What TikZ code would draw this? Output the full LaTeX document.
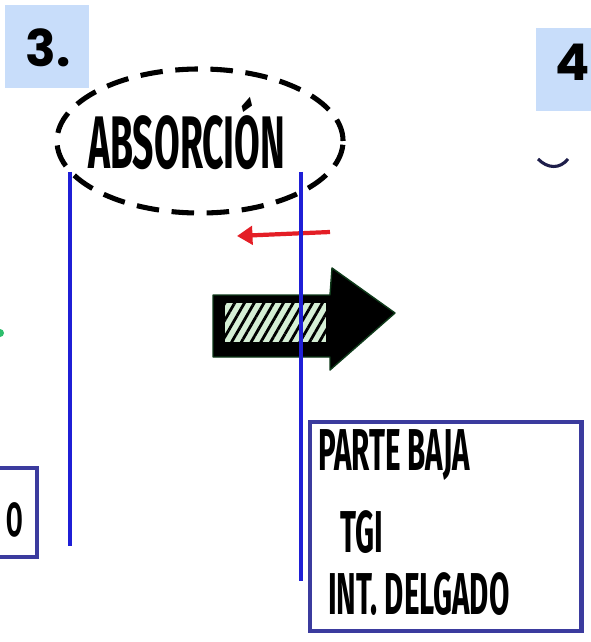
\documentclass[tikz,border=0pt]{standalone}
\usepackage{fontspec}
\setmainfont{Fira Sans}
\newfontfamily\handfont[FakeStretch=0.5]{Fira Sans}
\newfontfamily\numfont{Poppins}
\usetikzlibrary{positioning,arrows.meta,shapes.geometric,patterns.meta}
\definecolor{numblue}{HTML}{C8DDFA}
\definecolor{boxblue}{HTML}{3B3B9E}
\definecolor{lineblue}{HTML}{1F1FD6}
\definecolor{arrowred}{HTML}{E41E26}
\definecolor{hatchgreen}{HTML}{D5EFD5}
\definecolor{arrowgreen}{HTML}{0F3A1A}
\definecolor{inkgreen}{HTML}{2DBE6C}
\definecolor{inknavy}{HTML}{1E1E4A}
\tikzset{num box/.style={rectangle,fill=numblue,inner sep=0pt},
	num text/.style={font=\numfont\bfseries\fontsize{36}{36}\selectfont,inner sep=0pt},
	hand text/.style={font=\handfont\bfseries\fontsize{42}{42}\selectfont,inner sep=0pt},
	note box/.style={rectangle,draw=boxblue,line width=3.5pt,inner sep=0pt},
	tube/.style={draw=lineblue,line width=2.2pt},}

\begin{document}
\begin{tikzpicture}[x=0.025cm,y=-0.025cm]
	\useasboundingbox[fill=white] (0,0) rectangle (590,642);

	% step labels
	\node[num box, minimum width=2.1cm, minimum height=2.075cm] (box3) at (47,46.5) {};
	\node[num text] (three) at (48,48) {3.};
	\node[num box, minimum width=1.6cm, minimum height=2.075cm] (box4) at (568,69.5) {};
	\node[num text] (four) at (573,62) {4};

	% absorption label
	\node[ellipse, draw, dashed, line width=3.6pt, dash pattern=on 16pt off 9pt,
		minimum width=7.15cm, minimum height=3.6cm] (ring) at (200,141) {};
	\node[hand text, font=\handfont\bfseries\fontsize{53}{53}\selectfont] (absorcion) at (187,134) {ABSORCIÓN};

	% big arrow with hatched body
	\filldraw[fill=black, draw=arrowgreen, line width=1pt, line join=round]
		(213,295) -- (330,295) -- (332,268) -- (395,313) -- (330,370) -- (330,357) -- (213,357) -- cycle;
	\fill[hatchgreen] (225,303) rectangle (326,342);
	\fill[pattern={Lines[angle=60,distance=6pt,line width=2pt]}, pattern color=black]
		(225,303) rectangle (326,342);

	% red arrow
	\coordinate (r1) at (330,232);
	\coordinate (r2) at (237,236);
	\draw[arrowred, line width=3pt, -{Triangle[length=11pt,width=13pt]}] (r1) -- (r2);

	% the two walls
	\coordinate (w1) at (70,172);
	\coordinate (w2) at (70,546);
	\coordinate (w3) at (301,172);
	\coordinate (w4) at (301,581);
	\path[tube]
		(w1) edge (w2)
		(w3) edge (w4);

	% boxes
	\node[note box, minimum width=1.425cm, minimum height=2.225cm] (leftbox) at (8.5,512.5) {};
	\node[hand text, font=\handfont\bfseries\fontsize{34}{34}\selectfont] (o) at (15,520) {O};
	\node[note box, minimum width=6.775cm, minimum height=5.225cm] (rightbox) at (445.5,526.5) {};
	\node[hand text, anchor=base west] (parte) at (318,470) {PARTE BAJA};
	\node[hand text, anchor=base west] (tgi) at (340,552) {TGI};
	\node[hand text, anchor=base west] (delgado) at (328,614) {INT. DELGADO};

	% bits of ink at the edges
	\fill[inkgreen] (0,333) circle (4);
	\draw[inknavy, line width=2.2pt] (538,159) .. controls (548,169) and (560,169) .. (568,159);
\end{tikzpicture}
\end{document}
